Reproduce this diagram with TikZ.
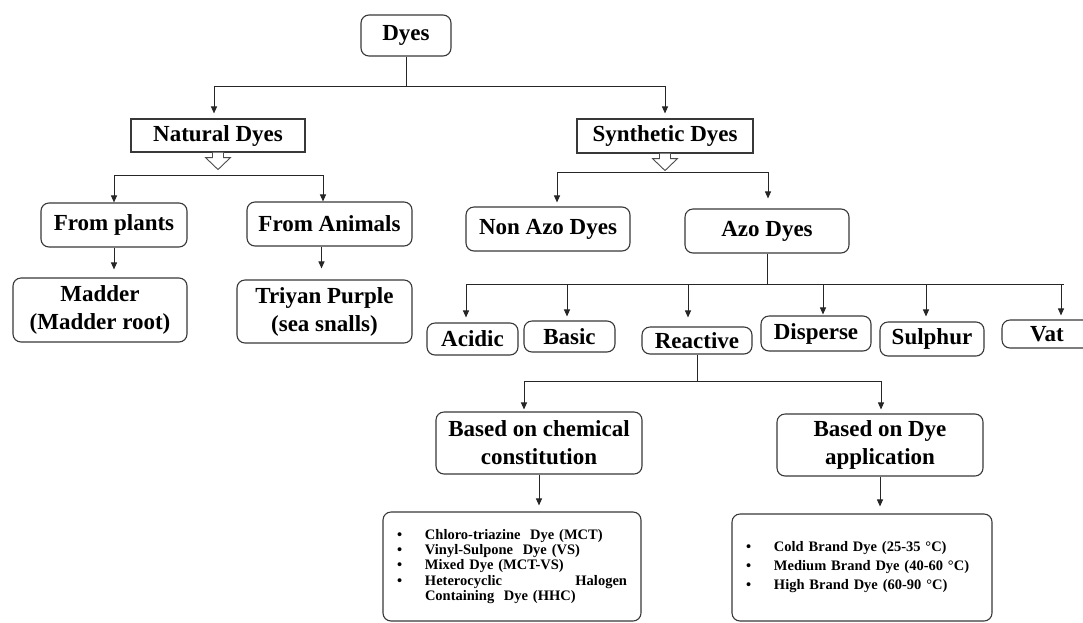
\documentclass[tikz,border=0pt]{standalone}
\usepackage{fontspec}
\setmainfont{Liberation Serif}
\usetikzlibrary{arrows.meta}
\begin{document}
\begin{tikzpicture}[x=1pt,y=-1pt,
 box/.style={draw=black!78,line width=1.1pt,rounded corners=8pt,fill=white,inner sep=0pt,align=center,font=\fontsize{23}{28}\selectfont\bfseries},
 sqbox/.style={box,rounded corners=0pt},
 listbox/.style={box,align=left,font=\fontsize{14.5}{15.3}\selectfont\bfseries},
 ln/.style={draw=black!85,line width=1pt},
 arr/.style={ln,-{Triangle[length=7pt,width=6pt]}},
 hollow/.style={draw=black!70,line width=0.9pt,fill=white}
]
\useasboundingbox (0,0) rectangle (1083,622);
\clip (0,0) rectangle (1083,622);

% nodes
\node[box,minimum width=90pt,minimum height=41pt] (dyes) at (406,35.5) {Dyes};
\node[sqbox,minimum width=174pt,minimum height=33pt] (natural) at (218,135.5) {Natural Dyes};
\node[sqbox,minimum width=176pt,minimum height=34pt] (synthetic) at (665,136) {Synthetic Dyes};
\node[box,minimum width=146pt,minimum height=44pt] (plants) at (114,225) {From plants};
\node[box,minimum width=165pt,minimum height=44pt] (animals) at (329.5,224) {From Animals};
\node[box,minimum width=174pt,minimum height=64pt] (madder) at (100,310) {Madder\\(Madder root)};
\node[box,minimum width=175pt,minimum height=63pt] (triyan) at (324.5,311.5) {Triyan Purple\\(sea snalls)};
\node[box,minimum width=164pt,minimum height=44pt] (nonazo) at (548,229) {Non Azo Dyes};
\node[box,minimum width=164pt,minimum height=44pt] (azo) at (767,231) {Azo Dyes};
\node[box,minimum width=91pt,minimum height=32pt] (acidic) at (472.5,339) {Acidic};
\node[box,minimum width=91pt,minimum height=31pt] (basic) at (569.5,336.5) {Basic};
\node[box,minimum width=110pt,minimum height=27pt] (reactive) at (697,340.5) {Reactive};
\node[box,minimum width=110pt,minimum height=35pt] (disperse) at (816,333.5) {Disperse};
\node[box,minimum width=104pt,minimum height=34pt] (sulphur) at (932,339) {Sulphur};
\node[box,minimum width=90pt,minimum height=28pt] (vat) at (1047,334) {Vat};
\node[box,minimum width=206pt,minimum height=62pt] (chem) at (539,443) {Based on chemical\\constitution};
\node[box,minimum width=206pt,minimum height=62pt] (appl) at (880,445) {Based on Dye\\application};
\node[listbox,minimum width=258pt,minimum height=109pt,text width=230pt,inner xsep=14pt] (chemlist) at (512,566.5) {%
\makebox[28pt][l]{\textbullet}Chloro-triazine\ \ Dye (MCT)\\
\makebox[28pt][l]{\textbullet}Vinyl-Sulpone\ \ Dye (VS)\\
\makebox[28pt][l]{\textbullet}Mixed Dye (MCT-VS)\\
\makebox[28pt][l]{\textbullet}\makebox[202pt][l]{Heterocyclic\hfill Halogen}\\
\hspace*{28pt}Containing\ \ Dye (HHC)};
\node[listbox,font=\fontsize{14.5}{19}\selectfont\bfseries,minimum width=260pt,minimum height=107pt,text width=232pt,inner xsep=14pt] (appllist) at (862,567.5) {%
\makebox[28pt][l]{\textbullet}\mbox{Cold Brand Dye (25-35 °C)}\\
\makebox[28pt][l]{\textbullet}\mbox{Medium Brand Dye (40-60 °C)}\\
\makebox[28pt][l]{\textbullet}\mbox{High Brand Dye (60-90 °C)}};

% Dyes -> Natural / Synthetic
\coordinate (j0) at (406,86);
\coordinate (jl) at (214,86);
\coordinate (jr) at (665,86);
\draw[ln] (dyes.south) -- (j0);
\draw[ln] (jl) -- (jr);
\draw[arr,shorten >=5pt] (jl) -- (jl |- natural.north);
\draw[arr,shorten >=5pt] (jr) -- (jr |- synthetic.north);

% hollow block arrows
\draw[hollow] (natural.south) ++(-5.5,0) -- ++(0,5) -- ++(-7,0) -- ++(12.5,12) -- ++(12.5,-12) -- ++(-7,0) -- ++(0,-5);
\draw[hollow] (synthetic.south) ++(-5.5,0) -- ++(0,5) -- ++(-7,0) -- ++(12.5,12) -- ++(12.5,-12) -- ++(-7,0) -- ++(0,-5);

% Natural children
\coordinate (n1) at (114,175);
\coordinate (n2) at (323,175);
\draw[ln] (n1) -- (n2);
\draw[arr] (n1) -- (n1 |- plants.north);
\draw[arr] (n2) -- (n2 |- animals.north);
\draw[arr,shorten >=8pt] (plants.south) -- (plants.south |- madder.north);
\coordinate (a1) at ([xshift=-8pt]animals.south);
\draw[arr,shorten >=11pt] (a1) -- (a1 |- triyan.north);

% Synthetic children
\coordinate (s1) at (557,172);
\coordinate (s2) at (768,172);
\draw[ln] (s1) -- (s2);
\draw[arr,shorten >=4pt] (s1) -- (s1 |- nonazo.north);
\draw[arr,shorten >=10pt] (s2) -- (s2 |- azo.north);

% Azo children
\coordinate (z0) at (767,284);
\coordinate (za) at (466,284);
\coordinate (zb) at (567,284);
\coordinate (zc) at (688,284);
\coordinate (zd) at (823,284);
\coordinate (ze) at (926,284);
\coordinate (zf) at (1061,284);
\coordinate (zend) at (1064,284);
\draw[ln] (azo.south) -- (z0);
\draw[ln] (za) -- (zend);
\draw[arr,shorten >=5pt] (za) -- (za |- acidic.north);
\draw[arr,shorten >=4pt] (zb) -- (zb |- basic.north);
\draw[arr,shorten >=9pt] (zc) -- (zc |- reactive.north);
\draw[arr,shorten >=1pt] (zd) -- (zd |- disperse.north);
\draw[arr,shorten >=5pt] (ze) -- (ze |- sulphur.north);
\draw[arr,shorten >=4pt] (zf) -- (zf |- vat.north);

% Reactive children
\coordinate (r0) at (697,381);
\coordinate (rl) at (524,381);
\coordinate (rr) at (881,381);
\draw[ln] (reactive.south) -- (r0);
\draw[ln] (rl) -- (rr);
\draw[arr,shorten >=2pt] (rl) -- (rl |- chem.north);
\draw[arr,shorten >=4pt] (rr) -- (rr |- appl.north);
\draw[arr,shorten >=6pt] (chem.south) -- (chem.south |- chemlist.north);
\draw[arr,shorten >=7pt] (appl.south) -- (appl.south |- appllist.north);
\end{tikzpicture}
\end{document}
